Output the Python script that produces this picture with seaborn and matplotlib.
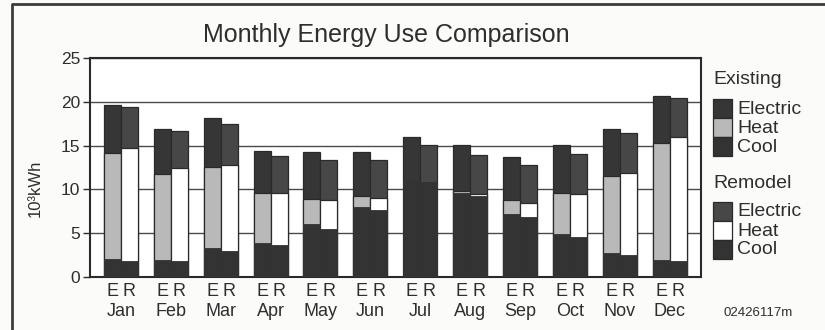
import matplotlib
matplotlib.use("Agg")
import matplotlib.pyplot as plt
from matplotlib.patches import Rectangle
from matplotlib.lines import Line2D
import numpy as np
import pandas as pd
import seaborn as sns

# ---- data (10^3 kWh per month) ----
months = ["Jan", "Feb", "Mar", "Apr", "May", "Jun",
          "Jul", "Aug", "Sep", "Oct", "Nov", "Dec"]
scenarios = ["E", "R"]  # E = Existing, R = Remodel

existing_cool = [2.0, 1.9, 3.3, 3.9, 6.0, 8.0, 11.0, 9.6, 7.2, 4.9, 2.7, 1.9]
existing_heat = [12.2, 9.9, 9.3, 5.7, 2.9, 1.3, 0.0, 0.2, 1.55, 4.7, 8.85, 13.45]
existing_elec = [5.4, 5.1, 5.6, 4.8, 5.35, 4.95, 5.0, 5.3, 4.95, 5.5, 5.4, 5.35]

remodel_cool = [1.85, 1.85, 3.0, 3.7, 5.5, 7.6, 10.9, 9.25, 6.8, 4.6, 2.5, 1.8]
remodel_heat = [12.9, 10.55, 9.8, 5.9, 3.25, 1.4, 0.0, 0.25, 1.65, 4.9, 9.4, 14.2]
remodel_elec = [4.65, 4.3, 4.7, 4.2, 4.55, 4.3, 4.2, 4.4, 4.35, 4.55, 4.55, 4.45]

y_ticks = [0, 5, 10, 15, 20, 25]
title = "Monthly Energy Use Comparison"
y_label = "10³kWh"
doc_id = "02426117m"

# ---- long table with cumulative tops for overlapped stacking ----
rows = []
for scen, cool, heat, elec in (("E", existing_cool, existing_heat, existing_elec),
                               ("R", remodel_cool, remodel_heat, remodel_elec)):
    for m, c, h, e in zip(months, cool, heat, elec):
        rows.append(dict(month=m, scenario=scen, heat=h,
                         cool_top=c, heat_top=c + h, total=c + h + e))
df = pd.DataFrame(rows)

# ---- style ----
sns.set_theme(style="white")
plt.rcParams["font.family"] = ["Liberation Sans", "DejaVu Sans"]
TXT = "#2e2e2e"
DARK_E = "#363636"
DARK_R = "#474747"
COOL = "#333333"
HEAT_E = "#b9b9b9"
HEAT_R = "#ffffff"
EDGE = "#2a2a2a"
GRID = "#4a4a4a"

W, H = 825, 330
fig = plt.figure(figsize=(W / 100, H / 100), dpi=100, facecolor="#fbfbfa")


def fx(px):
    return px / W


def fy(py):
    return 1 - py / H


ax = fig.add_axes([fx(90), fy(277), fx(701) - fx(90), fy(58) - fy(277)])
ax.set_facecolor("#ffffff")

bar_kw = dict(x="month", hue="scenario", order=months, hue_order=scenarios,
              width=0.68, dodge=True, gap=0, saturation=1, legend=False,
              errorbar=None, ax=ax, zorder=3)

# electric (full stack height), then heat, then cool painted over it
sns.barplot(data=df, y="total", palette={"E": DARK_E, "R": DARK_R},
            edgecolor=EDGE, linewidth=0.9, **bar_kw)
n0 = len(ax.patches)
sns.barplot(data=df, y="heat_top", palette={"E": HEAT_E, "R": HEAT_R},
            edgecolor=EDGE, linewidth=0.9, **bar_kw)
# months without heating load get no heat segment
heat_flags = [h > 0 for s in scenarios for h in df.loc[df.scenario == s, "heat"]]
for p, has_heat in zip(ax.patches[n0:], heat_flags):
    p.set_visible(has_heat)
sns.barplot(data=df, y="cool_top", palette={"E": COOL, "R": COOL},
            edgecolor=COOL, linewidth=0.6, **bar_kw)

# ---- axes ----
ax.set_xlim(-0.62, 11.63)
ax.set_ylim(0, 25)
ax.set_yticks(y_ticks)
ax.set_yticklabels([str(t) for t in y_ticks], fontsize=12.5, color=TXT)
ax.yaxis.grid(True, color=GRID, linewidth=1.0, zorder=0)
ax.xaxis.grid(False)
ax.set_axisbelow(True)
ax.tick_params(axis="y", length=5, width=1, color=EDGE, pad=2, left=True)
ax.set_xlabel("")
ax.set_ylabel("")

centers = np.arange(len(months))
ax.set_xticks(centers)
ax.set_xticklabels(months, fontsize=13, color=TXT)
sub_pos = np.sort(np.concatenate([centers - 0.17, centers + 0.17]))
ax.set_xticks(sub_pos, minor=True)
ax.set_xticklabels(scenarios * len(months), minor=True, fontsize=13, color=TXT)
ax.tick_params(axis="x", which="both", length=0)
ax.tick_params(axis="x", which="minor", pad=4)
ax.tick_params(axis="x", which="major", pad=19)

for s in ax.spines.values():
    s.set_visible(True)
    s.set_color(EDGE)
    s.set_linewidth(1.5)

# ---- titles ----
fig.text(fx(386), fy(35), title, ha="center", va="center", fontsize=18, color=TXT)
fig.text(fx(35), fy(188), y_label, ha="center", va="center", rotation=90,
         fontsize=12, color=TXT)
fig.text(fx(758), fy(313), doc_id, ha="center", va="center", fontsize=9.5, color=TXT)

# ---- stacked key ----
def key_block(top, header, heat_color, elec_color):
    fig.text(fx(713), fy(top - 19), header, ha="left", va="center",
             fontsize=14, color=TXT)
    seg = 19
    for k, (lab, col) in enumerate((("Electric", elec_color),
                                    ("Heat", heat_color),
                                    ("Cool", COOL))):
        y0 = top + k * seg
        fig.patches.append(Rectangle((fx(713), fy(y0 + seg)), fx(19), seg / H,
                                     transform=fig.transFigure, facecolor=col,
                                     edgecolor=EDGE, linewidth=0.9))
        fig.text(fx(737), fy(y0 + seg / 2 + 0.5), lab, ha="left", va="center",
                 fontsize=14, color=TXT)


key_block(99, "Existing", HEAT_E, DARK_E)
key_block(202, "Remodel", HEAT_R, DARK_R)

# ---- page frame ----
fig.add_artist(Line2D([fx(12), fx(12), fx(825)], [fy(330), fy(4), fy(4)],
                      transform=fig.transFigure, color="#3c3c3c", linewidth=2))

fig.savefig("out.png", dpi=100, facecolor=fig.get_facecolor())
